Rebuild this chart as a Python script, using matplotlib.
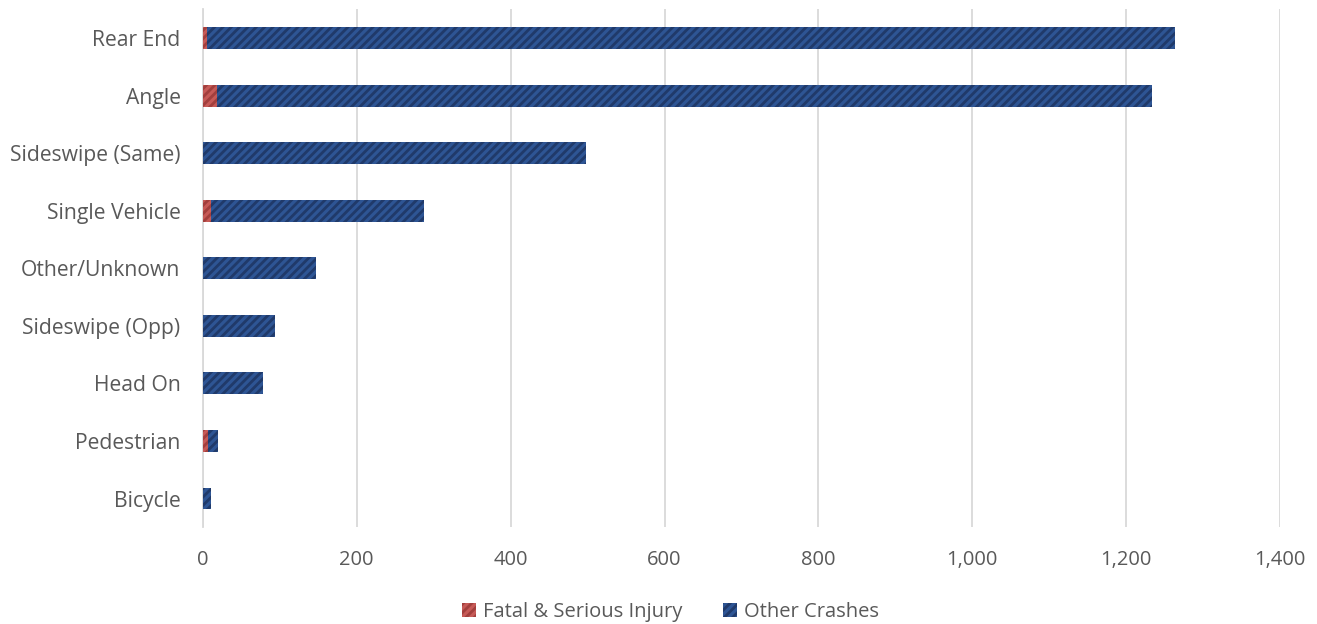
import matplotlib.pyplot as plt
from matplotlib.ticker import FuncFormatter
from matplotlib import rcParams

rcParams['font.family'] = ['Open Sans', 'DejaVu Sans']
rcParams['hatch.linewidth'] = 2.0

# Datos
tipos = ['Rear End', 'Angle', 'Sideswipe (Same)', 'Single Vehicle', 'Other/Unknown',
         'Sideswipe (Opp)', 'Head On', 'Pedestrian', 'Bicycle']
graves = [6, 19, 0, 10, 0, 0, 0, 7, 0]
otros = [1257, 1214, 498, 277, 147, 94, 78, 13, 11]

rojo, rojo_osc = '#C65A57', '#A23F3D'
azul, azul_osc = '#2E5594', '#203A6A'
gris_texto = '#595959'

fig, ax = plt.subplots(figsize=(13.17, 6.24), dpi=100)
fig.subplots_adjust(left=0.154, right=0.972, top=0.985, bottom=0.155)

y = list(range(len(tipos)))
ax.barh(y, graves, height=0.38, color=rojo, edgecolor=rojo_osc, hatch='////',
        linewidth=0, label='Fatal & Serious Injury', zorder=3)
ax.barh(y, otros, left=graves, height=0.38, color=azul, edgecolor=azul_osc,
        hatch='////', linewidth=0, label='Other Crashes', zorder=3)

ax.set_yticks(y)
ax.set_yticklabels(tipos)
ax.set_ylim(len(tipos) - 0.5, -0.5)
ax.set_xlim(0, 1400)
ax.set_xticks(range(0, 1401, 200))
ax.xaxis.set_major_formatter(FuncFormatter(lambda v, p: f'{int(v):,}'))

ax.grid(axis='x', color='#D9D9D9', linewidth=1.3, zorder=0)
for s in ['top', 'right', 'bottom']:
    ax.spines[s].set_visible(False)
ax.spines['left'].set_color('#D9D9D9')
ax.spines['left'].set_linewidth(1.3)
ax.tick_params(length=0, labelsize=14.5, colors=gris_texto)
ax.tick_params(axis='y', pad=16, labelsize=15.2)
ax.tick_params(axis='x', pad=16)

leg = ax.legend(loc='upper center', bbox_to_anchor=(0.434, -0.11), ncol=2, frameon=False,
                fontsize=14.5, handlelength=0.7, handleheight=0.7, handletextpad=0.35,
                columnspacing=2.0)
for t in leg.get_texts():
    t.set_color(gris_texto)

plt.savefig('out.png', dpi=100)
plt.close()
